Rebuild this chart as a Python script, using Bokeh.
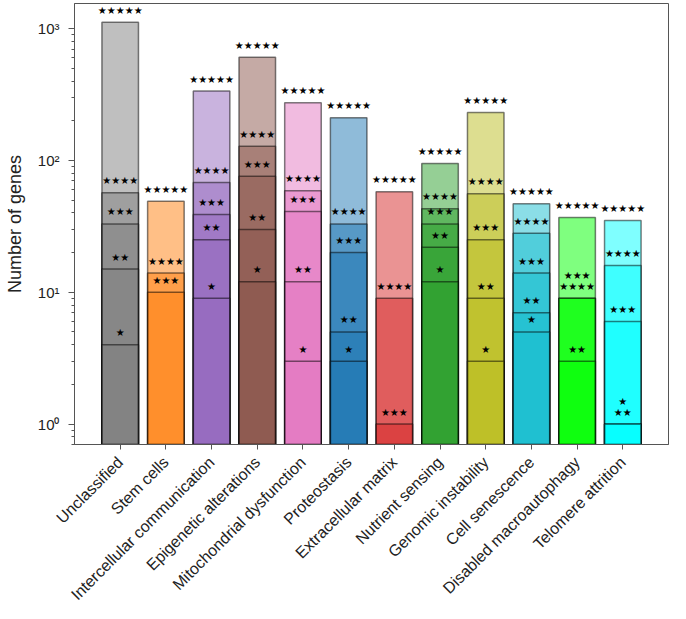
import math

from bokeh.core.properties import value
from bokeh.embed import file_html
from bokeh.models import ColumnDataSource, FixedTicker, Range1d
from bokeh.plotting import figure
from bokeh.resources import INLINE

categories = [
    "Unclassified", "Stem cells", "Intercellular communication",
    "Epigenetic alterations", "Mitochondrial dysfunction", "Proteostasis",
    "Extracellular matrix", "Nutrient sensing", "Genomic instability",
    "Cell senescence", "Disabled macroautophagy", "Telomere attrition",
]
colors = [
    "#7f7f7f", "#ff7f0e", "#9467bd", "#8c564b", "#e377c2", "#1f77b4",
    "#d62728", "#2ca02c", "#bcbd22", "#17becf", "#00ff00", "#00ffff",
]

# genes per category reaching each star level (0 = none)
one_star = [4, 0, 9, 12, 3, 3, 0, 12, 3, 5, 0, 1]
two_star = [15, 0, 25, 30, 12, 5, 0, 22, 9, 7, 3, 1]
three_star = [33, 10, 39, 76, 41, 20, 1, 33, 25, 14, 9, 6]
four_star = [57, 14, 68, 128, 59, 33, 9, 43, 56, 28, 9, 16]
five_star = [1120, 49, 336, 608, 274, 211, 58, 95, 231, 47, 37, 35]

y_ticks = [1, 10, 100, 1000]
y_tick_labels = ["10⁰", "10¹", "10²", "10³"]

levels = [one_star, two_star, three_star, four_star, five_star]
FONT = "Liberation Sans"

p = figure(
    width=686, height=619,
    x_range=Range1d(-1, 12), y_range=Range1d(0.70, 1553),
    y_axis_type="log",
    output_backend="svg", toolbar_location=None,
    min_border_left=74, min_border_right=18,
    min_border_top=3, min_border_bottom=175,
)

idx = list(range(len(categories)))

# tallest (five-star) bars first, smaller nested bars on top
for k in range(len(levels) - 1, -1, -1):
    vals = levels[k]
    keep = [i for i in idx if vals[i] > 0]
    src = ColumnDataSource(dict(
        x=keep,
        top=[vals[i] for i in keep],
        color=[colors[i] for i in keep],
    ))
    p.vbar(x="x", top="top", bottom=0.01, width=0.8, source=src,
           fill_color="color", fill_alpha=0.5,
           line_color="black", line_alpha=0.5, line_width=1.5)

# star labels above each bar top; coinciding tops stack upwards
for k, vals in enumerate(levels):
    xs, ys, offs = [], [], []
    for i in idx:
        v = vals[i]
        if v <= 0:
            continue
        n_same = sum(1 for j in range(k + 1, len(levels)) if levels[j][i] == v)
        xs.append(i)
        ys.append(v)
        offs.append(-12 - 11 * n_same)
    src = ColumnDataSource(dict(x=xs, y=ys, off=offs,
                                t=["★" * (k + 1)] * len(xs)))
    p.text(x="x", y="y", text="t", y_offset="off", source=src,
           text_align="center", text_baseline="middle",
           text_font=value("DejaVu Sans"), text_font_size="10px",
           text_color="#000000")

p.xgrid.visible = False
p.ygrid.visible = False
p.outline_line_color = "#555555"

xa = p.xaxis[0]
xa.ticker = FixedTicker(ticks=idx)
xa.major_label_overrides = {i: c for i, c in zip(idx, categories)}
xa.major_label_orientation = math.pi / 4
xa.major_label_text_font = FONT
xa.major_label_text_font_size = "16px"
xa.major_label_text_color = "#222222"
xa.major_label_standoff = 10
xa.major_tick_out = 5
xa.major_tick_in = 0
xa.minor_tick_out = 0
xa.axis_line_color = "#555555"
xa.major_tick_line_color = "#555555"

minor = [m * 10.0 ** e for e in range(-1, 4) for m in range(2, 10)]
ya = p.yaxis[0]
ya.ticker = FixedTicker(ticks=y_ticks, minor_ticks=minor)
ya.major_label_overrides = {t: s for t, s in zip(y_ticks, y_tick_labels)}
ya.major_label_text_font = FONT
ya.major_label_text_font_size = "15px"
ya.major_label_text_color = "#222222"
ya.major_label_standoff = 9
ya.major_tick_out = 6
ya.major_tick_in = 0
ya.minor_tick_out = 3
ya.minor_tick_in = 0
ya.axis_line_color = "#555555"
ya.major_tick_line_color = "#555555"
ya.minor_tick_line_color = "#555555"
ya.axis_label = "Number of genes"
ya.axis_label_text_font = FONT
ya.axis_label_text_font_style = "normal"
ya.axis_label_text_font_size = "18px"
ya.axis_label_text_color = "#222222"
ya.axis_label_standoff = 10

open("out.html", "w").write(file_html(p, INLINE))
